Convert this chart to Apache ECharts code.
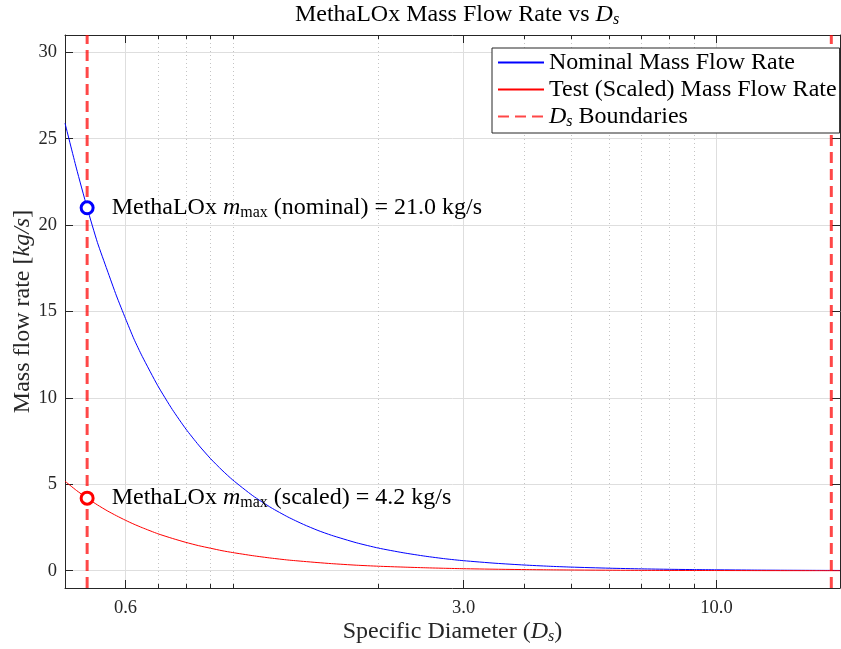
<!DOCTYPE html>
<html><head><meta charset="utf-8">
<script src="https://cdn.jsdelivr.net/npm/echarts@6/dist/echarts.min.js"></script>
<style>html,body{margin:0;padding:0;background:#fff}#c{width:841px;height:649px}</style>
</head><body><div id="c"></div>
<script>
// ---- data ----
const dsValues = [0.45,0.475,0.5,0.525,0.55,0.575,0.6,0.625,0.65,0.7,0.75,0.8,0.85,0.9,0.95,1.0,1.1,1.2,1.3,1.4,1.5,1.6,1.8,2.0,2.25,2.5,2.75,3.0,3.5,4,4.5,5,6,7,8,9,10,12,14,16,18];
const nominalFlow = [25.9,23.3,21.0,19.0,17.4,15.9,14.6,13.4,12.4,10.7,9.33,8.2,7.27,6.48,5.82,5.25,4.34,3.65,3.11,2.68,2.33,2.05,1.62,1.31,1.04,0.84,0.69,0.58,0.43,0.33,0.26,0.21,0.146,0.107,0.082,0.065,0.053,0.036,0.027,0.021,0.016];
const scaledFlow = [5.18,4.65,4.2,3.81,3.47,3.18,2.92,2.69,2.49,2.14,1.87,1.64,1.45,1.30,1.16,1.05,0.87,0.73,0.62,0.54,0.47,0.41,0.32,0.26,0.21,0.17,0.14,0.117,0.086,0.066,0.052,0.042,0.029,0.021,0.016,0.013,0.011,0.007,0.005,0.004,0.003];
const boundaryDs = [0.5, 17.27];
const nominalMaxPoint = [0.5, 21.0];
const scaledMaxPoint = [0.5, 4.2];
const xMajorTicks = [0.6, 3.0, 10.0];
const xMinorTicks = [0.7, 0.8, 0.9, 1, 2, 4, 5, 6, 7, 8, 9];
const yTicks = [0, 5, 10, 15, 20, 25, 30];
const xRange = [0.45, 18];
const yRange = [-1, 31];
const seriesNames = ['Nominal Mass Flow Rate', 'Test (Scaled) Mass Flow Rate', 'D_s Boundaries'];

// ---- styling ----
const F = 'Liberation Serif';
const FS = 24;
const AX = '#262626';
const rich = {
  n: {fontFamily: F, fontSize: FS, color: '#000', lineHeight: 27},
  i: {fontFamily: F, fontSize: FS, fontStyle: 'italic', color: '#000', lineHeight: 27},
  sub: {fontFamily: F, fontSize: 16, color: '#000', lineHeight: 17, padding: [10, 0, 0, 0]},
  isub: {fontFamily: F, fontSize: 16, fontStyle: 'italic', color: '#000', lineHeight: 17, padding: [10, 0, 0, 0]}
};
const richGray = {
  n: Object.assign({}, rich.n, {color: AX}),
  i: Object.assign({}, rich.i, {color: AX}),
  isub: Object.assign({}, rich.isub, {color: AX})
};

function xAxis(pos, ticks, major, labels, split) {
  return {
    type: 'log', logBase: 10, min: xRange[0], max: xRange[1], position: pos,
    axisLine: {show: major, onZero: false, lineStyle: {color: AX, width: 1}},
    axisTick: {show: true, inside: true, length: major ? 8 : 4, customValues: ticks, lineStyle: {color: AX}},
    axisLabel: {show: labels, customValues: ticks, margin: 11, fontFamily: F, fontSize: 18.5, color: AX,
      formatter: v => Number(v).toFixed(1)},
    splitLine: {show: split, lineStyle: major ? {color: '#dedede', width: 1} : {color: '#c4c4c4', width: 1, type: [1, 3]}},
    minorTick: {show: false}, minorSplitLine: {show: false}
  };
}
function yAxis(pos, main) {
  return {
    type: 'value', min: yRange[0], max: yRange[1], position: pos,
    axisLine: {show: true, onZero: false, lineStyle: {color: AX, width: 1}},
    axisTick: {show: true, inside: true, length: 8, customValues: yTicks, lineStyle: {color: AX}},
    axisLabel: {show: main, customValues: yTicks, margin: 8, fontFamily: F, fontSize: 18.5, color: AX},
    splitLine: {show: main, lineStyle: {color: '#dedede', width: 1}},
    name: main ? '{n|Mass flow rate [}{i|kg/s}{n|]}' : '',
    nameLocation: 'middle', nameGap: 29, nameRotate: 90, nameMoveOverlap: false,
    nameTextStyle: {fontFamily: F, fontSize: FS, color: AX, rich: richGray}
  };
}

const xs = [
  xAxis('bottom', xMajorTicks, true, true, true),
  xAxis('bottom', xMinorTicks, false, false, true),
  xAxis('top', xMajorTicks, true, false, false),
  xAxis('top', xMinorTicks, false, false, false)
];
xs[0].name = '{n|Specific Diameter (}{i|D}{isub|s}{n|)}';
xs[0].nameLocation = 'middle';
xs[0].nameGap = 30;
xs[0].nameMoveOverlap = false;
xs[0].nameTextStyle = {fontFamily: F, fontSize: FS, color: AX, rich: richGray};

const nominalData = dsValues.map((d, k) => [d, nominalFlow[k]]);
const scaledData = dsValues.map((d, k) => [d, scaledFlow[k]]);

function markerSeries(pt, color, text) {
  return {
    type: 'scatter', xAxisIndex: 0, yAxisIndex: 0, data: [pt], symbol: 'circle', symbolSize: 12,
    itemStyle: {color: '#fff', borderColor: color, borderWidth: 3, opacity: 1},
    label: {show: true, position: 'right', distance: 17, formatter: text, fontFamily: F, fontSize: FS, color: '#000', rich: rich},
    z: 5, silent: true
  };
}

const option = {
  animation: false,
  backgroundColor: '#fff',
  title: {
    text: '{n|MethaLOx Mass Flow Rate vs }{i|D}{isub|s}',
    left: 457, top: 1, padding: 0, textAlign: 'center',
    textStyle: {fontFamily: F, fontSize: FS, fontWeight: 'normal', color: '#000', rich: rich}
  },
  grid: {left: 65, right: 1, top: 35, bottom: 61, outerBoundsMode: 'none', containLabel: false},
  xAxis: xs,
  yAxis: [yAxis('left', true), yAxis('right', false)],
  legend: {
    data: seriesNames.map(n => ({name: n, itemStyle: {opacity: 0}})),
    orient: 'vertical', left: 492, top: 48,
    itemWidth: 46, itemHeight: 18, itemGap: 0, padding: [1, 3, 3, 5],
    borderColor: AX, borderWidth: 1, backgroundColor: '#fff', selectedMode: false,
    textStyle: {fontFamily: F, fontSize: FS, color: '#000', lineHeight: 27, rich: rich},
    formatter: name => name === 'D_s Boundaries' ? '{i|D}{isub|s}{n| Boundaries}' : '{n|' + name + '}'
  },
  series: [
    {name: seriesNames[0], type: 'line', data: nominalData, symbol: 'none', smooth: 0.2,
     lineStyle: {color: '#0000ff', width: 1}, itemStyle: {color: '#0000ff'}},
    {name: seriesNames[1], type: 'line', data: scaledData, symbol: 'none', smooth: 0.2,
     lineStyle: {color: '#ff0000', width: 1}, itemStyle: {color: '#ff0000'}},
    {name: seriesNames[2], type: 'line', data: [[boundaryDs[0], yRange[0]], [boundaryDs[0], yRange[1]]], symbol: 'none',
     lineStyle: {color: 'rgba(255,0,0,0.72)', width: 3, type: [11, 6]}, itemStyle: {color: 'rgba(255,0,0,0.72)'}},
    {name: seriesNames[2], type: 'line', data: [[boundaryDs[1], yRange[0]], [boundaryDs[1], yRange[1]]], symbol: 'none',
     lineStyle: {color: 'rgba(255,0,0,0.72)', width: 3, type: [11, 6]}, itemStyle: {color: 'rgba(255,0,0,0.72)'}},
    markerSeries(nominalMaxPoint, '#0000ff', '{n|MethaLOx }{i|m}{sub|max}{n| (nominal) = ' + nominalMaxPoint[1].toFixed(1) + ' kg/s}'),
    markerSeries(scaledMaxPoint, '#ff0000', '{n|MethaLOx }{i|m}{sub|max}{n| (scaled) = ' + scaledMaxPoint[1].toFixed(1) + ' kg/s}')
  ]
};
const chart = echarts.init(document.getElementById('c'), null, {renderer: 'canvas'});
chart.setOption(option);
</script></body></html>
